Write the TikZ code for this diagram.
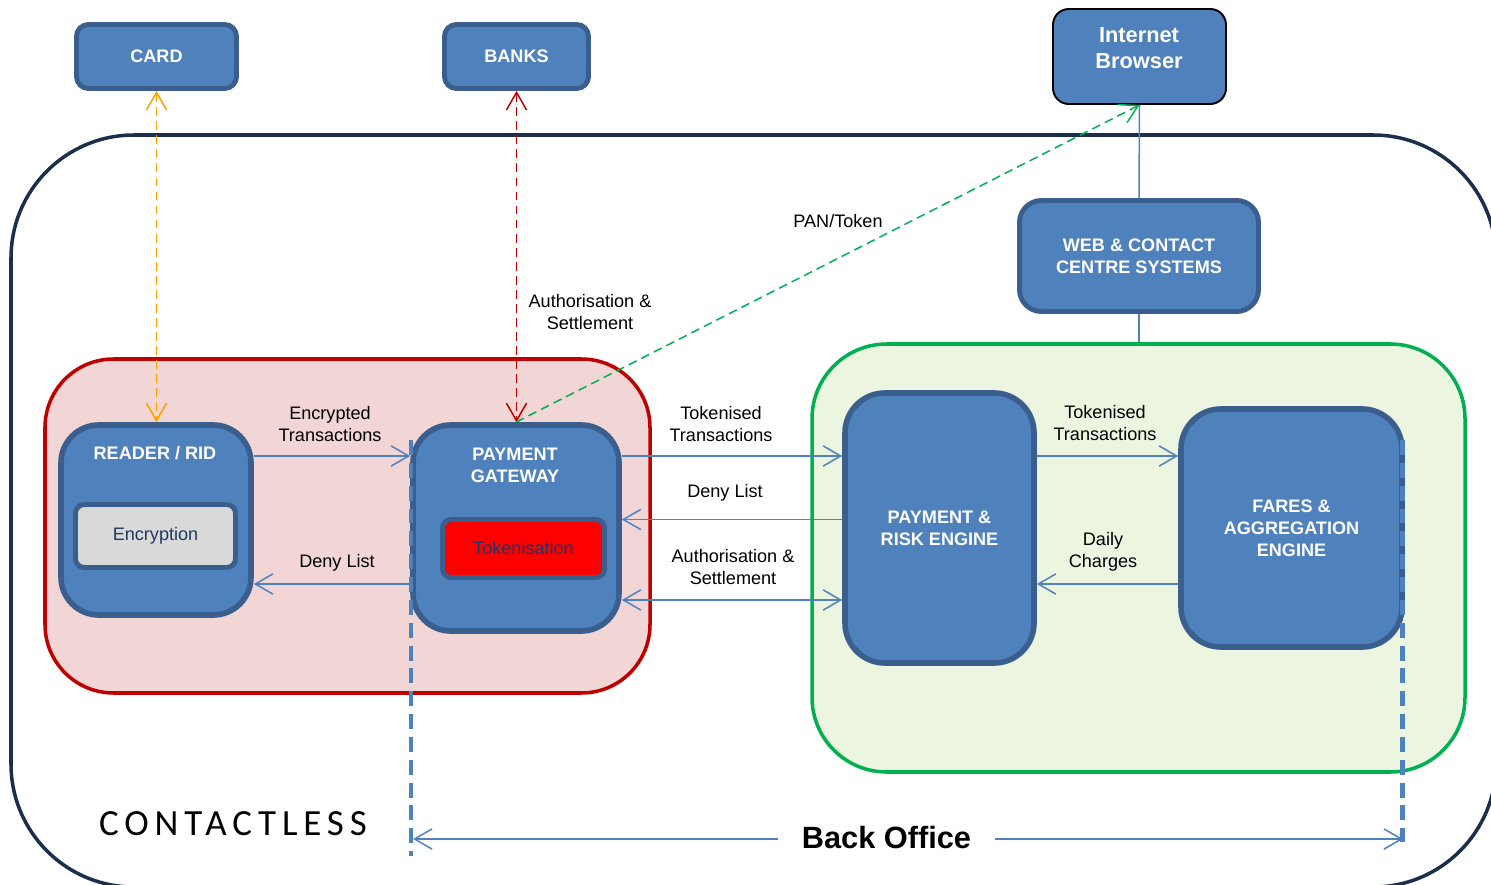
\documentclass[tikz,border=0pt]{standalone}
\usepackage{fontspec}
\setmainfont{Liberation Sans}
\newfontfamily\spacedfont[LetterSpace=16]{Carlito}
\usetikzlibrary{arrows.meta,calc}

\definecolor{boxfill}{HTML}{4F81BD}
\definecolor{boxedge}{HTML}{3A5F8E}
\definecolor{framenavy}{HTML}{1B2F4D}
\definecolor{rededge}{HTML}{C00000}
\definecolor{redfill}{HTML}{F2D5D5}
\definecolor{greenedge}{HTML}{00B050}
\definecolor{greenfill}{HTML}{EBF5E0}
\definecolor{linkblue}{HTML}{4F81BD}
\definecolor{navytext}{HTML}{1F3864}
\definecolor{orangeline}{HTML}{FFA000}
\definecolor{greyfill}{HTML}{D9D9D9}
\definecolor{tokenred}{HTML}{FF0000}

\tikzset{
  boxsize/.style 2 args={minimum width=#1*0.02cm, minimum height=#2*0.02cm},
  sysbox/.style={draw=boxedge, fill=boxfill, line width=2.8pt, inner sep=0pt,
    text=white, align=center, font=\bfseries\fontsize{10.3}{12.5}\selectfont},
  innerbox/.style={draw=boxedge, line width=2.8pt, inner sep=0pt,
    text=navytext, font=\fontsize{10.3}{12.5}\selectfont, rounded corners=5pt},
  zone/.style={line width=2pt, inner sep=0pt},
  title/.style={text=white, align=center, inner sep=0pt,
    font=\bfseries\fontsize{10.3}{12.5}\selectfont},
  lbl/.style={align=center, inner sep=0pt, font=\fontsize{10.3}{12.3}\selectfont},
  conn/.style={draw=linkblue, line width=0.85pt},
  fwd/.style={-{Straight Barb[length=10pt,width=11.5pt]}},
  twoway/.style={{Straight Barb[length=10pt,width=11.5pt]}-{Straight Barb[length=10pt,width=11.5pt]}},
  dashlink/.style={line width=0.85pt, dash pattern=on 5pt off 3pt},
  boundary/.style={draw=linkblue, line width=2.3pt, dash pattern=on 8.5pt off 4.5pt},
}

\begin{document}
\begin{tikzpicture}[x=0.02cm, y=-0.02cm]
\useasboundingbox (0,0) rectangle (1491,885);

% system boundary
\node[draw=framenavy, line width=2pt, rounded corners=2.46cm, inner sep=0pt,
      boxsize={1485}{752}] (system) at (753.5,511) {};

% zones
\node[zone, draw=rededge, fill=redfill, rounded corners=39pt, boxsize={605}{334}]
  (redzone) at (347.5,526) {};
\node[zone, draw=greenedge, fill=greenfill, rounded corners=42.5pt, boxsize={653}{428}]
  (greenzone) at (1138.5,558) {};

% external systems
\node[sysbox, rounded corners=6.8pt, boxsize={160}{64}] (card) at (156.5,56.5) {CARD};
\node[sysbox, rounded corners=6.8pt, boxsize={144}{64}] (banks) at (516.5,56.5) {BANKS};
\node[sysbox, draw=black, line width=1.1pt, rounded corners=9pt, boxsize={173}{95}]
  (browser) at (1139.5,56.5) {};
\node[title, font=\bfseries\fontsize{12.4}{14.7}\selectfont] (browsertext)
  at (1139,48) {Internet\\Browser};
\node[sysbox, rounded corners=12.5pt, boxsize={239}{111}] (web) at (1139,256)
  {WEB \& CONTACT\\CENTRE SYSTEMS};

% contactless components
\node[sysbox, line width=3.2pt, rounded corners=21.5pt, boxsize={190}{190}] (reader) at (156,520) {};
\node[title] (readertitle) at (155,453) {READER / RID};
\node[innerbox, fill=greyfill, boxsize={160}{63}] (encryption) at (155.5,536) {Encryption};

\node[sysbox, line width=3.2pt, rounded corners=21.5pt, boxsize={206}{206}] (gateway) at (516,528) {};
\node[title] (gatewaytitle) at (515,465) {PAYMENT\\GATEWAY};
\node[innerbox, fill=tokenred, boxsize={162}{58}] (token) at (523.5,548.5) {Tokenisation};

% back office components
\node[sysbox, line width=3.2pt, rounded corners=22.7pt, boxsize={189}{270}] (risk) at (939.5,528)
  {PAYMENT \&\\RISK ENGINE};
\node[sysbox, line width=3.2pt, rounded corners=22.7pt, boxsize={221}{238}] (fares) at (1291.5,528)
  {FARES \&\\AGGREGATION\\ENGINE};

% horizontal levels of the flows
\coordinate (yA) at (0,456);
\coordinate (yB) at (0,519.5);
\coordinate (yC) at (0,584);
\coordinate (yD) at (0,600);

% flows between components
\draw[conn, fwd] (reader.east |- yA) -- (gateway.west |- yA);
\draw[conn, fwd] (gateway.west |- yC) -- (reader.east |- yC);
\draw[conn, fwd] (gateway.east |- yA) -- (risk.west |- yA);
\draw[conn, fwd] (risk.west |- yB) -- (gateway.east |- yB);
\draw[conn, twoway] (gateway.east |- yD) -- (risk.west |- yD);
\draw[conn, fwd] (risk.east |- yA) -- (fares.west |- yA);
\draw[conn, fwd] (fares.west |- yC) -- (risk.east |- yC);

% links to the outside
\draw[conn] (browser.south) -- (web.north);
\draw[conn] (web.south) -- (web.south |- greenzone.north);
\draw[dashlink, draw=orangeline, twoway] (card.south) -- (card.south |- reader.north);
\draw[dashlink, draw=rededge, twoway] (banks.south) -- (banks.south |- gateway.north);
\draw[dashlink, draw=greenedge, fwd] (gateway.north) -- (browser.south);

% flow labels
\node[lbl] (lblenc) at (330,424) {Encrypted\\Transactions};
\node[lbl] (lbldeny1) at (337,563) {Deny List};
\node[lbl] (lbltok1) at (721,424) {Tokenised\\Transactions};
\node[lbl] (lbldeny2) at (725,493) {Deny List};
\node[lbl] (lblauth2) at (733,567) {Authorisation \&\\Settlement};
\node[lbl] (lbltok2) at (1105,423) {Tokenised\\Transactions};
\node[lbl] (lbldaily) at (1103,552) {Daily\\Charges};
\node[lbl] (lblauth1) at (590,312) {Authorisation \&\\Settlement};
\node[lbl] (lblpan) at (838,221) {PAN/Token};

% back office extent
\coordinate (boTopL) at (411,440);
\coordinate (boBotL) at (411,856);
\coordinate (boTopR) at (1402.5,440);
\coordinate (boBotR) at (1402.5,842);
\draw[boundary] (boTopL) -- (boBotL);
\draw[boundary] (boTopR) -- (boBotR);
\coordinate (boArrL) at (413,839);
\coordinate (boArrR) at (1403,839);
\draw[conn, twoway] (boArrL) -- (boArrR);
\node[fill=white, inner xsep=0.48cm, inner ysep=2pt,
      font=\bfseries\fontsize{17.5}{20}\selectfont] (backoffice) at (886.5,838) {Back Office};

% zone name
\node[inner sep=0pt, font=\spacedfont\fontsize{21}{24}\selectfont] (contactless) at (233,824) {CONTACTLESS};
\end{tikzpicture}
\end{document}
